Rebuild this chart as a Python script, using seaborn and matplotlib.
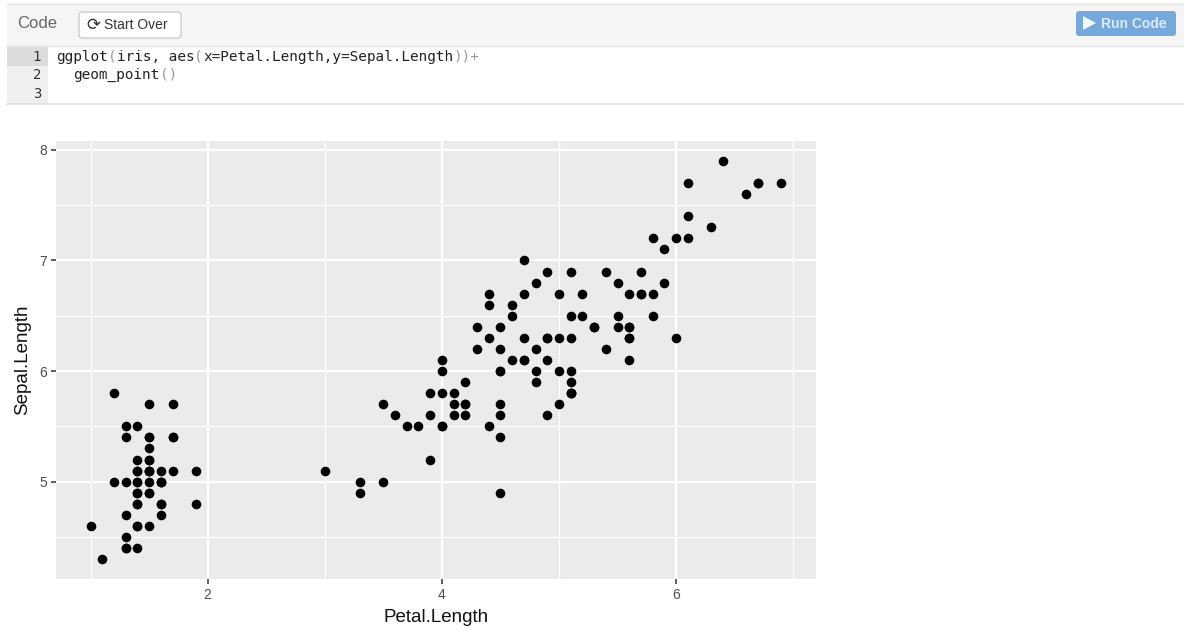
import pandas as pd
import matplotlib
matplotlib.use("Agg")
import matplotlib.pyplot as plt
from matplotlib.patches import Rectangle, FancyBboxPatch, Polygon
import seaborn as sns

W, H = 1184, 631

petal_length = [
    1.4, 1.4, 1.3, 1.5, 1.4, 1.7, 1.4, 1.5, 1.4, 1.5, 1.5, 1.6, 1.4, 1.1, 1.2, 1.5, 1.3, 1.4, 1.7, 1.5,
    1.7, 1.5, 1.0, 1.7, 1.9, 1.6, 1.6, 1.5, 1.4, 1.6, 1.6, 1.5, 1.5, 1.4, 1.5, 1.2, 1.3, 1.4, 1.3, 1.5,
    1.3, 1.3, 1.3, 1.6, 1.9, 1.4, 1.6, 1.4, 1.5, 1.4,
    4.7, 4.5, 4.9, 4.0, 4.6, 4.5, 4.7, 3.3, 4.6, 3.9, 3.5, 4.2, 4.0, 4.7, 3.6, 4.4, 4.5, 4.1, 4.5, 3.9,
    4.8, 4.0, 4.9, 4.7, 4.3, 4.4, 4.8, 5.0, 4.5, 3.5, 3.8, 3.7, 3.9, 5.1, 4.5, 4.5, 4.7, 4.4, 4.1, 4.0,
    4.4, 4.6, 4.0, 3.3, 4.2, 4.2, 4.2, 4.3, 3.0, 4.1,
    6.0, 5.1, 5.9, 5.6, 5.8, 6.6, 4.5, 6.3, 5.8, 6.1, 5.1, 5.3, 5.5, 5.0, 5.1, 5.3, 5.5, 6.7, 6.9, 5.0,
    5.7, 4.9, 6.7, 4.9, 5.7, 6.0, 4.8, 4.9, 5.6, 5.8, 6.1, 6.4, 5.6, 5.1, 5.6, 6.1, 5.6, 5.5, 4.8, 5.4,
    5.6, 5.1, 5.1, 5.9, 5.7, 5.2, 5.0, 5.2, 5.4, 5.1,
]
sepal_length = [
    5.1, 4.9, 4.7, 4.6, 5.0, 5.4, 4.6, 5.0, 4.4, 4.9, 5.4, 4.8, 4.8, 4.3, 5.8, 5.7, 5.4, 5.1, 5.7, 5.1,
    5.4, 5.1, 4.6, 5.1, 4.8, 5.0, 5.0, 5.2, 5.2, 4.7, 4.8, 5.4, 5.2, 5.5, 4.9, 5.0, 5.5, 4.9, 4.4, 5.1,
    5.0, 4.5, 4.4, 5.0, 5.1, 4.8, 5.1, 4.6, 5.3, 5.0,
    7.0, 6.4, 6.9, 5.5, 6.5, 5.7, 6.3, 4.9, 6.6, 5.2, 5.0, 5.9, 6.0, 6.1, 5.6, 6.7, 5.6, 5.8, 6.2, 5.6,
    5.9, 6.1, 6.3, 6.1, 6.4, 6.6, 6.8, 6.7, 6.0, 5.7, 5.5, 5.5, 5.8, 6.0, 5.4, 6.0, 6.7, 6.3, 5.6, 5.5,
    5.5, 6.1, 5.8, 5.0, 5.6, 5.7, 5.7, 6.2, 5.1, 5.7,
    6.3, 5.8, 7.1, 6.3, 6.5, 7.6, 4.9, 7.3, 6.7, 7.2, 6.5, 6.4, 6.8, 5.7, 5.8, 6.4, 6.5, 7.7, 7.7, 6.0,
    6.9, 5.6, 7.7, 6.3, 6.7, 7.2, 6.2, 6.1, 6.4, 7.2, 7.4, 7.9, 6.4, 6.3, 6.1, 7.7, 6.3, 6.4, 6.0, 6.9,
    6.7, 6.9, 5.8, 6.8, 6.7, 6.7, 6.3, 6.5, 6.2, 5.9,
]
x_ticks = [2, 4, 6]
y_ticks = [5, 6, 7, 8]
x_minor = [1, 3, 5, 7]
y_minor = [4.5, 5.5, 6.5, 7.5]

code_tokens = [
    (0, "ggplot", "#222222"), (6, "(", "#999999"), (7, "iris, aes", "#222222"), (16, "(", "#999999"),
    (17, "x=Petal.Length,y=Sepal.Length", "#222222"), (46, "))+", "#999999"),
]

sns.set_theme(style="darkgrid", rc={"axes.facecolor": "#EBEBEB", "grid.color": "white"})
plt.rcParams["font.family"] = ["Liberation Sans", "DejaVu Sans"]

fig = plt.figure(figsize=(W / 100, H / 100), dpi=100)

# page chrome, in pixel coordinates
ui = fig.add_axes([0, 0, 1, 1])
ui.set_xlim(0, W)
ui.set_ylim(H, 0)
ui.axis("off")
ui.set_facecolor("white")
ui.add_patch(Rectangle((7, 3), W - 7, 43, fc="#F5F5F5", ec="none"))
ui.plot([7, W], [3.5, 3.5], color="#E6E6E6", lw=1)
ui.plot([7, W], [46, 46], color="#E3E3E3", lw=1)
ui.add_patch(Rectangle((7, 47), 41, 56, fc="#F0F0F0", ec="none"))
ui.add_patch(Rectangle((7, 47), 41, 19, fc="#DCDCDC", ec="none"))
ui.plot([7, W], [103.5, 103.5], color="#E3E3E3", lw=1.5)
ui.text(17, 24, "Code", fontsize=12, color="#666666", va="center")
ui.add_patch(FancyBboxPatch((79, 12), 102, 26, boxstyle="round,pad=0,rounding_size=3", fc="white", ec="#CCCCCC", lw=1))
ui.text(93, 25, "\u27f3", fontsize=12, color="#333333", ha="center", va="center", family="DejaVu Sans")
ui.text(104, 25, "Start Over", fontsize=10, color="#333333", va="center")
ui.add_patch(FancyBboxPatch((1076, 11), 100, 25, boxstyle="round,pad=0,rounding_size=3", fc="#75A8DB", ec="none"))
ui.add_patch(Polygon([[1083, 16], [1083, 30], [1096, 23]], fc="#F2F7FC", ec="none"))
ui.text(1101, 23.5, "Run Code", fontsize=10, color="#DCE9F6", va="center", fontweight="bold")
for i, y in enumerate([57, 75, 94]):
    ui.text(41, y, str(i + 1), fontsize=10, color="#333333", ha="right", va="center", family="DejaVu Sans Mono")
for col, tok, colr in code_tokens:
    ui.text(56 + col * 8.65, 57, tok, fontsize=10.4, color=colr, va="center", family="DejaVu Sans Mono")
ui.text(56 + 2 * 8.65, 75, "geom_point", fontsize=10.4, color="#222222", va="center", family="DejaVu Sans Mono")
ui.text(56 + 12 * 8.65, 75, "()", fontsize=10.4, color="#999999", va="center", family="DejaVu Sans Mono")

# ggplot style panel
ax = fig.add_axes([56 / W, 1 - 579 / H, 760 / W, 438 / H])
df = pd.DataFrame({"Petal.Length": petal_length, "Sepal.Length": sepal_length})
sns.scatterplot(data=df, x="Petal.Length", y="Sepal.Length", color="black", s=48, linewidth=0, ax=ax, zorder=3)
ax.set_xlim(0.705, 7.195)
ax.set_ylim(4.12, 8.08)
ax.set_xticks(x_ticks)
ax.set_yticks(y_ticks)
ax.set_xticks(x_minor, minor=True)
ax.set_yticks(y_minor, minor=True)
ax.grid(True, which="major", color="white", lw=1.6)
ax.grid(True, which="minor", color="white", lw=0.8)
ax.set_axisbelow(True)
for s in ax.spines.values():
    s.set_visible(False)
ax.tick_params(which="major", length=3.5, width=1.1, color="#333333", labelcolor="#4D4D4D", labelsize=10, pad=3,
               bottom=True, left=True)
ax.tick_params(which="minor", length=0)
ax.set_xlabel("Petal.Length", fontsize=13.5, color="#111111", labelpad=5)
ax.set_ylabel("Sepal.Length", fontsize=13.5, color="#111111", labelpad=6)

fig.savefig("out.png", dpi=100, facecolor="white")
